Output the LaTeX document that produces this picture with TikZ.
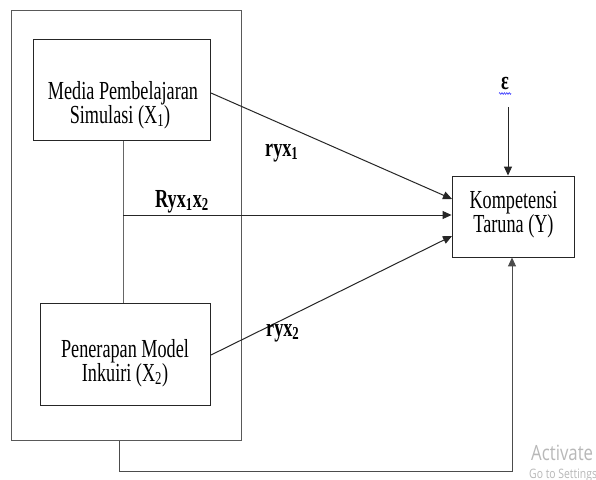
\documentclass[tikz,border=0pt]{standalone}
\usepackage{fontspec}
\setmainfont[FakeStretch=0.7]{Liberation Serif}
\newfontfamily\wmfont[FakeStretch=0.8]{Open Sans}
\usetikzlibrary{arrows.meta,decorations.pathmorphing}
\begin{document}
\begin{tikzpicture}[x=1pt,y=-1pt,
  box/.style={draw=black!85,line width=0.9pt,fill=white,inner sep=0pt},
  txt/.style={anchor=base,inner sep=0pt,font=\fontsize{26}{24}\selectfont},
  lbl/.style={anchor=base west,inner sep=0pt,font=\fontsize{26}{24}\selectfont\bfseries},
  conn/.style={line width=1pt,black!85},
  arr/.style={conn,-{Triangle[length=9pt,width=8pt]}}]
\clip (0,0) rectangle (596,479);
\fill[white] (0,0) rectangle (596,479);
\node[draw=black!65,line width=1pt,minimum width=230pt,minimum height=430pt,inner sep=0pt] (outer) at (126,225) {};
\node[box,minimum width=177pt,minimum height=101pt] (x1) at (121.5,90) {};
\node[box,minimum width=170pt,minimum height=102pt] (x2) at (125.5,354) {};
\node[box,minimum width=122pt,minimum height=81pt] (y) at (513,216.5) {};
\node[txt] (x1a) at (123,99) {Media Pembelajaran};
\node[txt] (x1b) at (120,123) {Simulasi (X\textsubscript{1})};
\node[txt] (x2a) at (125,357) {Penerapan Model};
\node[txt] (x2b) at (125,381) {Inkuiri (X\textsubscript{2})};
\node[txt] (ya) at (513.5,208) {Kompetensi};
\node[txt] (yb) at (513.5,232) {Taruna (Y)};
\node[txt,font=\fontsize{26}{24}\selectfont\bfseries] (eps) at (505,89) {ε};
\draw[blue!75!white,line width=0.6pt,decorate,decoration={zigzag,amplitude=0.9pt,segment length=2.4pt}] (499,93.5) -- (511,93.5);
% coordinates
\coordinate (x1out) at (211,93);
\coordinate (y1in) at (452,199);
\coordinate (jn) at (123,215);
\coordinate (x2out) at (211,355);
\coordinate (y3in) at (452,236);
\coordinate (epsin) at (508,107);
\coordinate (b1) at (119,441);
\coordinate (b2) at (119,471);
\coordinate (b3) at (512,471);
% connectors
\draw[black!60,line width=1pt] (x1.south -| jn) -- (x2.north -| jn);
\draw[arr] (x1out) -- (y1in);
\draw[arr] (jn) -- (y.west |- jn);
\draw[arr] (x2out) -- (y3in);
\draw[arr] (epsin) -- (y.north -| epsin);
\draw[arr,black!70] (b1) -- (b2) -- (b3) -- (y.south -| b3);
% labels
\node[lbl] (l1) at (265,156) {ryx\textsubscript{1}};
\node[lbl] (l12) at (155,207) {Ryx\textsubscript{1}x\textsubscript{2}};
\node[lbl] (l2) at (266,336) {ryx\textsubscript{2}};
% watermark
\node[anchor=base west,inner sep=0pt,text=black!28,font=\wmfont\fontsize{21}{22}\selectfont] (wm1) at (531,460) {Activate};
\node[anchor=base west,inner sep=0pt,text=black!28,font=\wmfont\fontsize{13}{14}\selectfont] (wm2) at (529,478) {Go to Settings};
\end{tikzpicture}
\end{document}
